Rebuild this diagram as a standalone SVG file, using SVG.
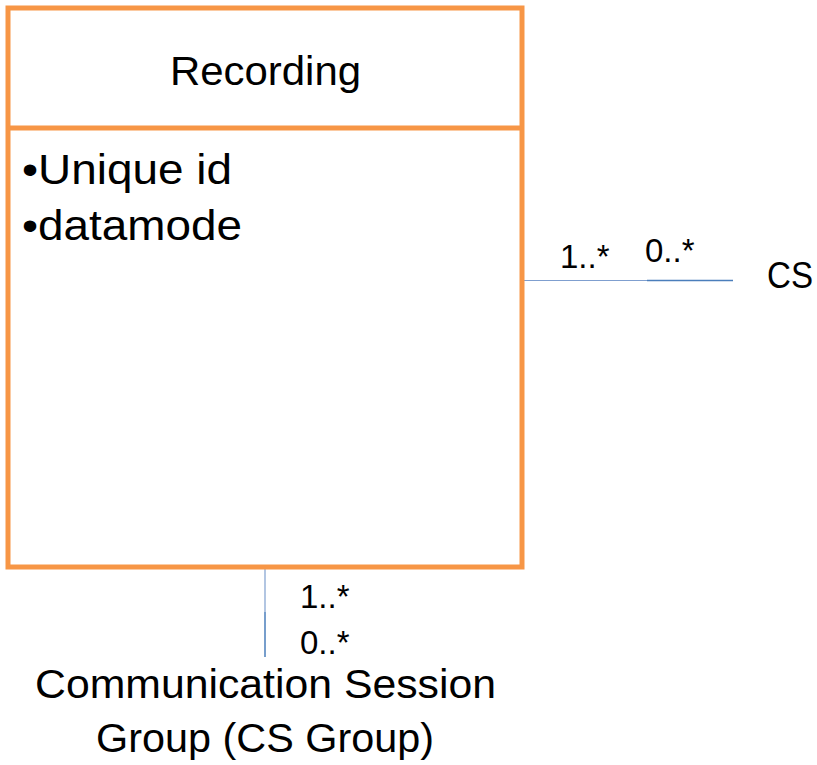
<svg xmlns="http://www.w3.org/2000/svg" width="817" height="765" viewBox="0 0 817 765">
<style>
text{font-family:"Liberation Sans",Arial,sans-serif;fill:#000}
.big{font-size:41px}
.item{font-size:43px}
.mult{font-size:33px}
.box{fill:#fff;stroke:#F79646;stroke-width:5}
.c1{stroke:#7F9FCF;stroke-width:1.2;fill:none}
.c2{stroke:#4A7EBB;stroke-width:1.5;fill:none}
</style>
<rect width="817" height="765" fill="#fff"/>
<g id="connectors">
<line class="c1" x1="523" y1="280.5" x2="647" y2="280.5"/>
<line class="c2" x1="647" y1="280.5" x2="733" y2="280.5"/>
<line class="c1" x1="265" y1="568" x2="265" y2="612"/>
<line class="c2" x1="265" y1="612" x2="265" y2="657"/>
<text class="mult" x="560" y="268">1..*</text>
<text class="mult" x="645" y="262">0..*</text>
<text class="mult" x="300" y="608">1..*</text>
<text class="mult" x="300" y="654">0..*</text>
</g>
<g id="recording">
<rect class="box" x="8" y="8" width="514" height="559"/>
<line x1="8" y1="128" x2="522" y2="128" stroke="#F79646" stroke-width="5"/>
<text class="big" x="170" y="85" textLength="191" lengthAdjust="spacingAndGlyphs">Recording</text>
<text class="item" x="22" y="184" textLength="210" lengthAdjust="spacingAndGlyphs">•Unique id</text>
<text class="item" x="22" y="240" textLength="220" lengthAdjust="spacingAndGlyphs">•datamode</text>
</g>
<g id="cs">
<text x="767" y="288" font-size="37" textLength="46" lengthAdjust="spacingAndGlyphs">CS</text>
</g>
<g id="csgroup">
<text class="big" x="35" y="698" textLength="461" lengthAdjust="spacingAndGlyphs">Communication Session</text>
<text class="big" x="96" y="752" textLength="338" lengthAdjust="spacingAndGlyphs">Group (CS Group)</text>
</g>
</svg>
